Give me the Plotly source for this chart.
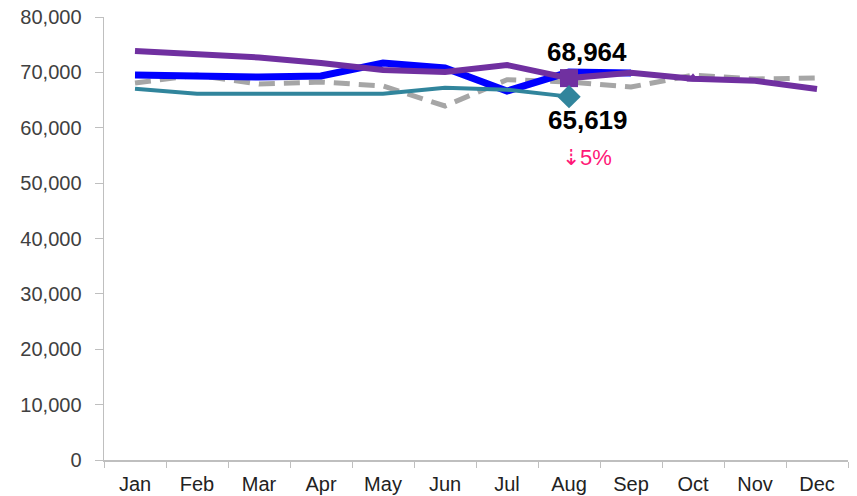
import plotly.graph_objects as go

months = ["Jan", "Feb", "Mar", "Apr", "May", "Jun", "Jul", "Aug", "Sep", "Oct", "Nov", "Dec"]
gray_vals = [68080, 69500, 67900, 68260, 67540, 63930, 68680, 68260, 67360, 69500, 68800, 68980]
blue_vals = [69530, 69250, 69160, 69350, 71690, 70790, 66620, 70060, 69890]
purple_vals = [73860, 73320, 72690, 71690, 70420, 70060, 71330, 68964, 69930, 68850, 68490, 67000]
teal_vals = [67060, 66150, 66150, 66150, 66150, 67240, 66880, 65619]
y_ticks = [0, 10000, 20000, 30000, 40000, 50000, 60000, 70000, 80000]
y_tick_text = ["0", "10,000", "20,000", "30,000", "40,000", "50,000", "60,000", "70,000", "80,000"]

FONT = "Liberation Sans, Arial, sans-serif"

fig = go.Figure()
fig.add_trace(go.Scatter(x=months, y=gray_vals, mode="lines",
                         line=dict(color="#A6A6A6", width=5, dash="16px,9px"), hoverinfo="skip"))
fig.add_trace(go.Scatter(x=months[:len(blue_vals)], y=blue_vals, mode="lines",
                         line=dict(color="#0000FF", width=7), hoverinfo="skip"))
fig.add_trace(go.Scatter(x=months[:len(teal_vals)], y=teal_vals, mode="lines",
                         line=dict(color="#31859C", width=4), hoverinfo="skip"))
fig.add_trace(go.Scatter(x=months, y=purple_vals, mode="lines",
                         line=dict(color="#7030A0", width=6), hoverinfo="skip"))
# markers
fig.add_trace(go.Scatter(x=[months[7]], y=[purple_vals[7]], mode="markers",
                         marker=dict(symbol="square", size=18, color="#7030A0"), hoverinfo="skip"))
fig.add_trace(go.Scatter(x=[months[7]], y=[teal_vals[7]], mode="markers",
                         marker=dict(symbol="diamond", size=18, color="#31859C"), hoverinfo="skip"))
fig.add_trace(go.Scatter(x=[months[9]], y=[purple_vals[9]], mode="markers",
                         marker=dict(symbol="triangle-up", size=11, color="#7030A0"), hoverinfo="skip"))

fig.add_annotation(x=months[7], y=purple_vals[7], text="<b>68,964</b>", showarrow=False,
                   xshift=18, yshift=26, font=dict(family=FONT, size=26, color="#000000"))
fig.add_annotation(x=months[7], y=teal_vals[7], text="<b>65,619</b>", showarrow=False,
                   xshift=19, yshift=-23, font=dict(family=FONT, size=26, color="#000000"))
fig.add_annotation(x=months[7], y=teal_vals[7], text="⇣5%", showarrow=False,
                   xshift=18, yshift=-61, font=dict(family=FONT, size=22, color="#FF1777"))

fig.update_layout(
    width=857, height=496,
    margin=dict(l=104, r=9, t=17, b=36, autoexpand=False),
    paper_bgcolor="white", plot_bgcolor="white",
    showlegend=False,
    font=dict(family=FONT, size=20, color="#404040"),
)
fig.update_xaxes(
    type="category", categoryorder="array", categoryarray=months,
    range=[-0.5, 11.5], tickson="boundaries", ticks="outside", ticklen=6,
    tickcolor="#BFBFBF", showline=True, linecolor="#BFBFBF", linewidth=1.5,
    showgrid=False, tickfont=dict(family=FONT, size=20, color="#222222"),
    ticklabelstandoff=5, automargin=False,
)
fig.update_yaxes(
    range=[0, 80000], tickvals=y_ticks, ticktext=y_tick_text,
    ticks="outside", ticklen=8, tickcolor="#BFBFBF", showline=True, linecolor="#BFBFBF",
    linewidth=1.5, showgrid=False, zeroline=False,
    tickfont=dict(family=FONT, size=20, color="#404040"),
    ticklabelstandoff=9, ticklabeloverflow="allow", automargin=False,
)

fig.write_html("out.html",
               config={"displayModeBar": False, "staticPlot": True},
               post_script="document.body.style.margin='0px';document.body.style.overflow='hidden';")
